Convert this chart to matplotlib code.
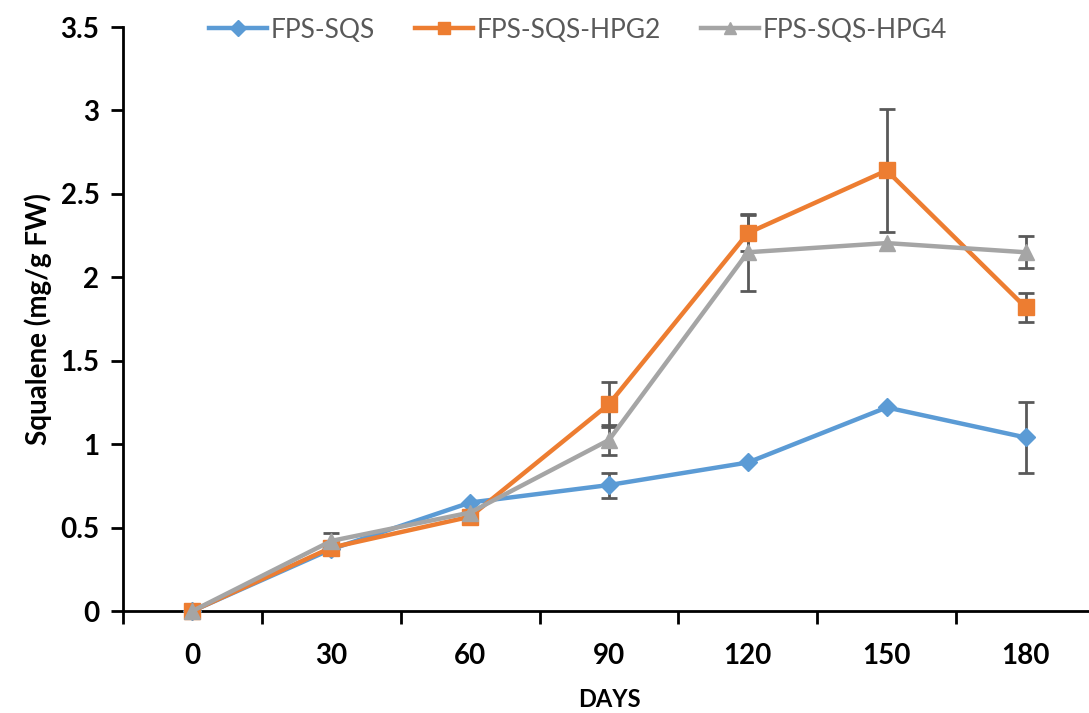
import numpy as np
import matplotlib
matplotlib.use('Agg')
import matplotlib.pyplot as plt
from matplotlib.lines import Line2D

days = ['0', '30', '60', '90', '120', '150', '180']

sqs = [0, 0.37, 0.65, 0.755, 0.89, 1.22, 1.04]
sqs_err = [0, 0, 0, 0.075, 0, 0, 0.21]

hpg2 = [0, 0.38, 0.565, 1.24, 2.265, 2.64, 1.82]
hpg2_err = [0, 0, 0, 0.135, 0.11, 0.37, 0.085]

hpg4 = [0, 0.42, 0.59, 1.025, 2.15, 2.205, 2.15]
hpg4_err = [0, 0.045, 0, 0.09, 0.23, 0, 0.095]

plt.rcParams['font.family'] = ['Lato', 'DejaVu Sans']

fig = plt.figure(figsize=(10.89, 7.13), dpi=100)
ax = fig.add_axes([123/1089, 102/713, 972/1089, 584/713])

x = np.arange(len(days))
series = [
    ('FPS-SQS', sqs, sqs_err, '#5B9BD5', 'D', 9),
    ('FPS-SQS-HPG2', hpg2, hpg2_err, '#ED7D31', 's', 11),
    ('FPS-SQS-HPG4', hpg4, hpg4_err, '#A5A5A5', '^', 11),
]
handles = []
for name, vals, err, col, mk, ms in series:
    cont = ax.errorbar(x, vals, yerr=err, color=col, lw=3.2, marker=mk, ms=ms,
                       ecolor='#595959', elinewidth=2, capsize=6, capthick=2,
                       zorder=3)
    cont.lines[0].set_clip_on(False)
    handles.append(Line2D([], [], color=col, lw=3.2, marker=mk, ms=ms * 0.85, label=name))

ax.set_xlim(-0.5, 6.5)
ax.set_ylim(0, 3.5)
ax.set_yticks(np.arange(0, 3.51, 0.5))
ax.set_yticklabels(['0', '0.5', '1', '1.5', '2', '2.5', '3', '3.5'])
ax.set_xticks(x)
ax.set_xticklabels(days)
ax.set_xticks(np.arange(-0.5, 6.6, 1), minor=True)
ax.tick_params(axis='x', which='major', length=0, pad=23, labelsize=20)
ax.tick_params(axis='x', which='minor', length=9, width=2, direction='out')
ax.tick_params(axis='y', length=9, width=2, direction='out', pad=8, labelsize=20)
for lab in ax.get_xticklabels() + ax.get_yticklabels():
    lab.set_fontweight('bold')

for s in ['top', 'right']:
    ax.spines[s].set_visible(False)
for s in ['left', 'bottom']:
    ax.spines[s].set_linewidth(2)

ax.set_xlabel('DAYS', fontsize=17, fontweight='bold', labelpad=14)
ax.set_ylabel('Squalene (mg/g FW)', fontsize=20, fontweight='bold', labelpad=6)

leg = fig.legend(handles=handles, loc='center', bbox_to_anchor=(578/1089, 1 - 30/713),
                 ncol=3, frameon=False, fontsize=19, handlelength=2.2,
                 columnspacing=1.5, handletextpad=0.15)
for t in leg.get_texts():
    t.set_color('#595959')

fig.savefig('out.png', dpi=100)
